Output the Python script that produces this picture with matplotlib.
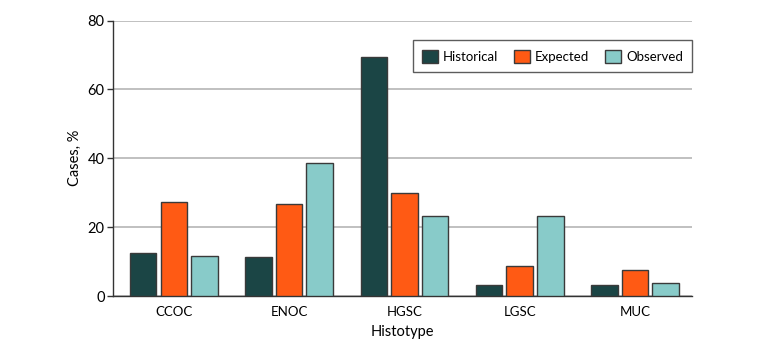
import matplotlib.pyplot as plt
import numpy as np

histotypes = ["CCOC", "ENOC", "HGSC", "LGSC", "MUC"]
historical = [12.6, 11.3, 69.5, 3.3, 3.3]
expected = [27.2, 26.7, 29.8, 8.8, 7.6]
observed = [11.5, 38.6, 23.2, 23.2, 3.9]

series = ["Historical", "Expected", "Observed"]
colors = ["#1b4545", "#ff5a14", "#88cbc9"]

plt.rcParams['font.family'] = ['Lato', 'DejaVu Sans']

fig = plt.figure(figsize=(7.8, 3.51), dpi=100)
ax = fig.add_axes([113 / 780, 1 - 296 / 351, 579 / 780, 275.5 / 351])

x = np.arange(len(histotypes))
width = 0.23
step = 0.265
for i, (name, vals) in enumerate(zip(series, [historical, expected, observed])):
    ax.bar(x + (i - 1) * step, vals, width, color=colors[i], edgecolor="#3a3a3a",
           linewidth=1, label=name, zorder=3)

ax.set_xlim(-0.527, 4.494)
ax.set_ylim(0, 80)
ax.set_yticks([0, 20, 40, 60, 80])
ax.set_xticks(x)
ax.set_xticklabels(histotypes)
ax.yaxis.grid(True, color="#b5b5b5", linewidth=1.2, zorder=0)
ax.tick_params(axis="x", length=0, labelsize=9.5, pad=7)
ax.tick_params(axis="y", length=4, width=1, color="#333333", labelsize=10.5, pad=2)
for s in ["top", "right"]:
    ax.spines[s].set_visible(False)
for s in ["left", "bottom"]:
    ax.spines[s].set_color("#333333")
    ax.spines[s].set_linewidth(1)

ax.set_xlabel("Histotype", fontsize=10.5, labelpad=5)
ax.set_ylabel("Cases, %", fontsize=10.5, labelpad=4)

leg = ax.legend(ncol=3, loc="upper left", bbox_to_anchor=(300 / 579, 0.928), fontsize=9.5,
                frameon=True, fancybox=False, edgecolor="#333333", handlelength=1.2,
                handleheight=1.15, columnspacing=1.2, handletextpad=0.38, borderpad=0.7,
                borderaxespad=0)
leg.get_frame().set_linewidth(1)
leg.set_zorder(5)

fig.savefig("out.png", dpi=100)
